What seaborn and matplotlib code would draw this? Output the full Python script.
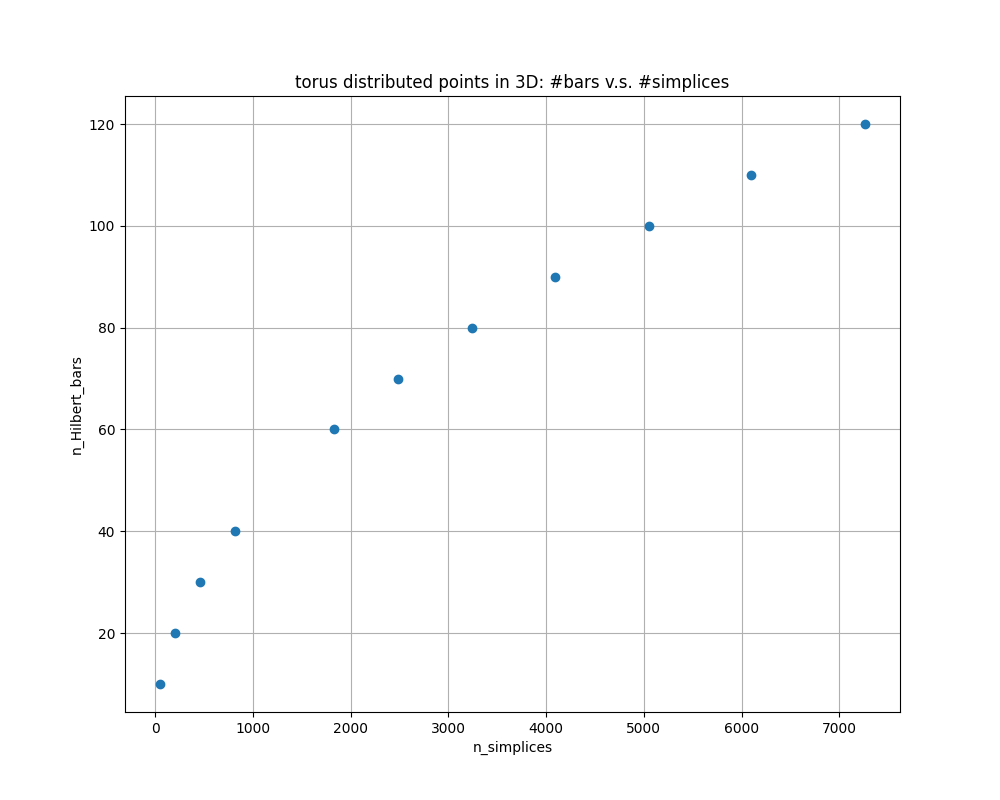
import matplotlib
matplotlib.use("Agg")
import matplotlib.pyplot as plt
import seaborn as sns
import pandas as pd

# values
n_simplices = [50, 205, 460, 815, 1830, 2485, 3240, 4090, 5050, 6100, 7260]
n_hilbert_bars = [10, 20, 30, 40, 60, 70, 80, 90, 100, 110, 120]

df = pd.DataFrame({"n_simplices": n_simplices, "n_Hilbert_bars": n_hilbert_bars})

fig, ax = plt.subplots(figsize=(10, 8), dpi=100)
sns.scatterplot(data=df, x="n_simplices", y="n_Hilbert_bars", ax=ax,
                color="#1f77b4", s=36, linewidth=1, edgecolor="#1f77b4")
ax.set_title("torus distributed points in 3D: #bars v.s. #simplices")
ax.grid(True)
ax.set_axisbelow(True)

fig.savefig("out.png")
plt.close(fig)
